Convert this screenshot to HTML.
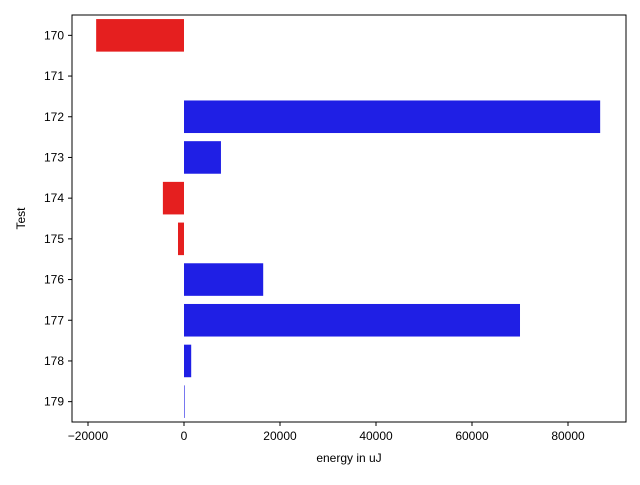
<!DOCTYPE html>
<html><head><meta charset="utf-8"><style>body{margin:0;background:#fff}svg{font-family:"Liberation Sans","DejaVu Sans",sans-serif}</style></head>
<body>
<svg id="c" width="640" height="480"></svg>
<script>
const categories=["170","171","172","173","174","175","176","177","178","179"];
const values=[-18300,0,86700,7700,-4400,-1250,16500,70000,1500,80];
const xTicks=[-20000,0,20000,40000,60000,80000];
const L=72,R=626,T=15,B=422,xmin=-23333,xmax=92083;
const svg=document.getElementById('c');const NS="http://www.w3.org/2000/svg";
function x(v){return L+(v-xmin)/(xmax-xmin)*(R-L);}
const step=(B-T)/categories.length;
function yc(i){return T+step*(i+0.5);}
function mk(t,a,p){const e=document.createElementNS(NS,t);for(const k in a)e.setAttribute(k,a[k]);(p||svg).appendChild(e);return e;}
categories.forEach((c,i)=>{
 const v=values[i];const x0=x(Math.min(0,v)),x1=x(Math.max(0,v));
 if(v!==0){
 const r=mk('rect',{x:x0,y:yc(i)-step*0.4,width:Math.max(x1-x0,0.6),height:step*0.8,fill:v<0?'#e51f1f':'#1f1fe5'});
 
 
 }
 mk('line',{x1:L,x2:L-4,y1:yc(i),y2:yc(i),stroke:'#000'});
 const t=mk('text',{x:L-8,y:yc(i)+4,'text-anchor':'end','font-size':12});t.textContent=c;
 
 
});
xTicks.forEach(v=>{
 mk('line',{x1:x(v),x2:x(v),y1:B,y2:B+4,stroke:'#000'});
 const t=mk('text',{x:x(v),y:B+18,'text-anchor':'middle','font-size':12});t.textContent=(v<0?'\u2212':'')+Math.abs(v);
 
 
});
const f=mk('rect',{x:L,y:T,width:R-L,height:B-T,fill:'none',stroke:'#000','stroke-width':1});


const xt=mk('text',{x:(L+R)/2,y:462,'text-anchor':'middle','font-size':12});xt.textContent='energy in uJ';


const yt=mk('text',{x:25,y:(T+B)/2,'text-anchor':'middle','font-size':12,transform:'rotate(-90 25 '+((T+B)/2)+')'});yt.textContent='Test';


</script>
</body></html>
